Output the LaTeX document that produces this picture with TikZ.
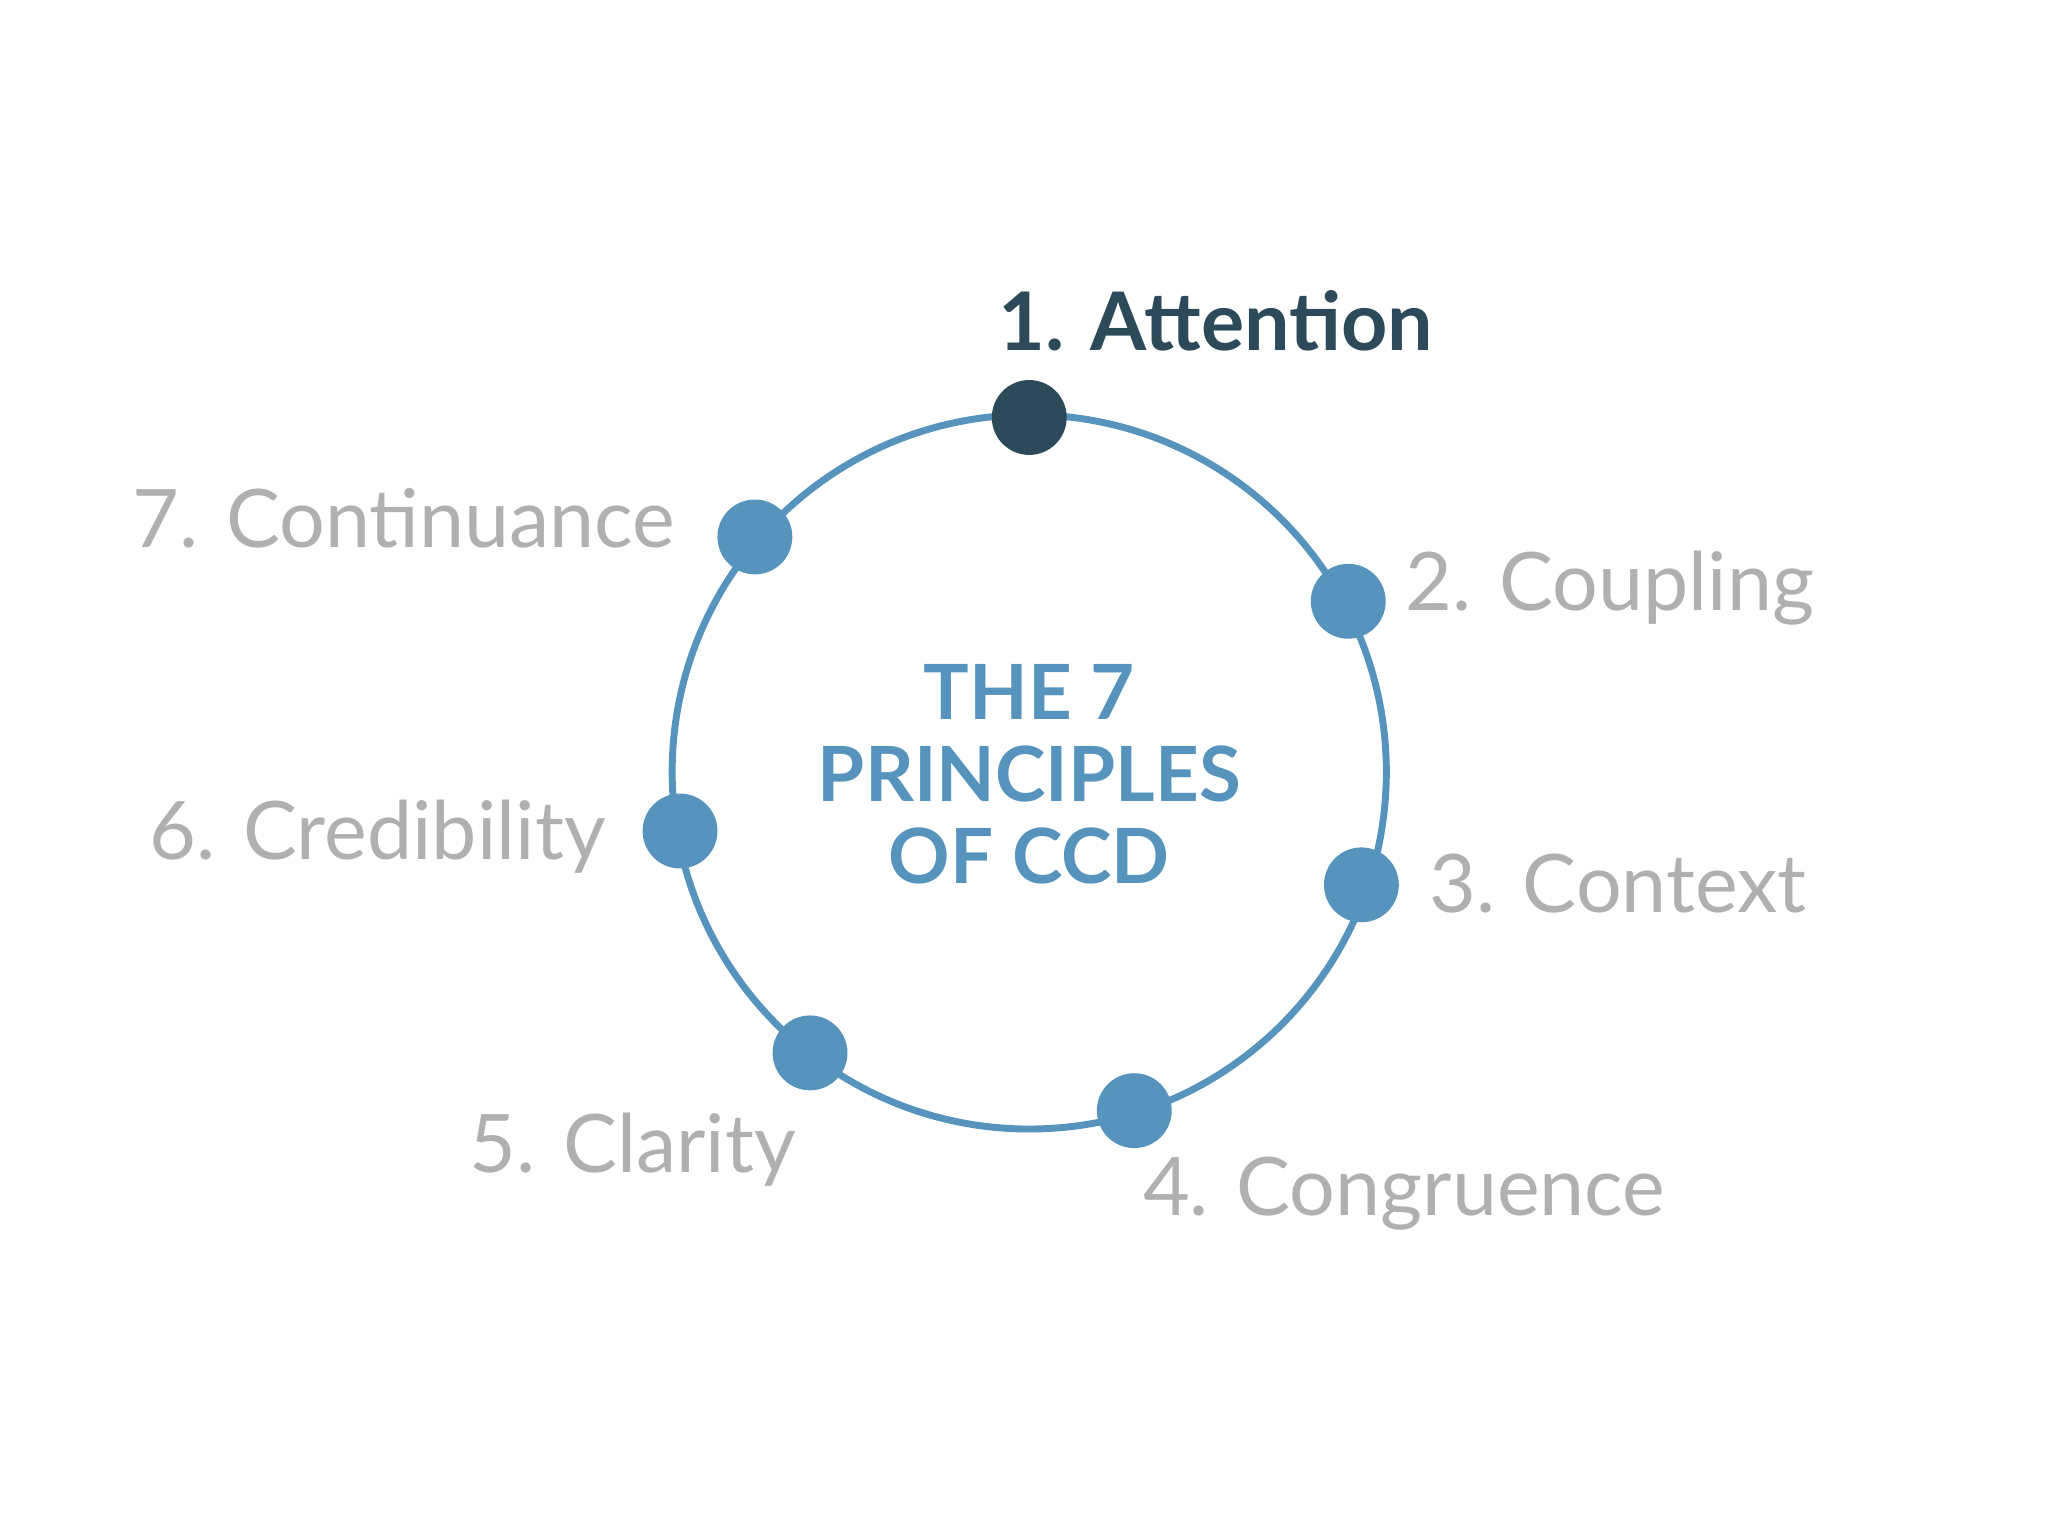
\documentclass[tikz,border=0pt]{standalone}
\usepackage{fontspec}
\setmainfont{Lato}
\definecolor{cblue}{HTML}{5694BD}
\definecolor{cdark}{HTML}{2D4A5A}
\definecolor{cgray}{HTML}{B0B0B0}
\begin{document}
\begin{tikzpicture}[x=0.01cm,y=-0.01cm,
  dot/.style={circle,fill=cblue,minimum size=0.57cm,inner sep=0},
  lbl/.style={text=cgray,font=\fontsize{17.5}{20}\selectfont,inner sep=0}]
\useasboundingbox (0,0) rectangle (1560,1170);
\draw[cblue,line width=1.5pt] (784,588) circle (272);
\node[dot,fill=cdark] (d1) at (784,318) {};
\node[dot] (d2) at (1027,458) {};
\node[dot] (d3) at (1037,674) {};
\node[dot] (d4) at (864,846) {};
\node[dot] (d5) at (617,802) {};
\node[dot] (d6) at (518,633) {};
\node[dot] (d7) at (575,409) {};
\node[lbl,anchor=base west,text=cdark,font=\fontsize{17.5}{20}\selectfont\bfseries] (l1) at (760,267) {1. Attention};
\node[lbl,anchor=base west] (l2) at (1070,465) {2. Coupling};
\node[lbl,anchor=base west] (l3) at (1088,695) {3. Context};
\node[lbl,anchor=base west] (l4) at (870,926) {4. Congruence};
\node[lbl,anchor=base west] (l5) at (357,893) {5. Clarity};
\node[lbl,anchor=base east] (l6) at (462,655) {6. Credibility};
\node[lbl,anchor=base east] (l7) at (515,417) {7. Continuance};
\node[align=center,text=cblue,font=\fontsize{16.5}{17.8}\selectfont\bfseries,inner sep=0] (c) at (784,590) {THE 7\\PRINCIPLES\\OF CCD};
\end{tikzpicture}
\end{document}
